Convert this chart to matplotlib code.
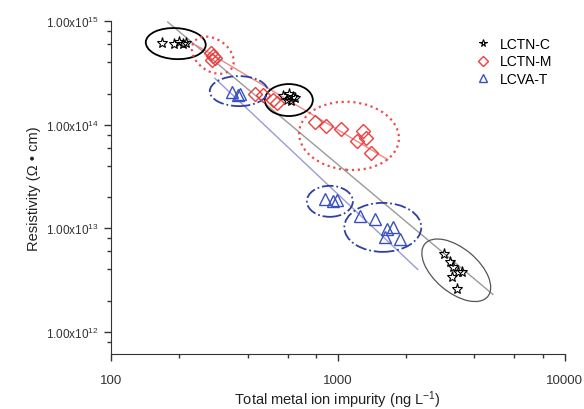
import numpy as np
import matplotlib.pyplot as plt
from matplotlib.patches import Ellipse
from matplotlib.transforms import ScaledTranslation
from matplotlib.ticker import FixedLocator, FuncFormatter

plt.rcParams['font.family'] = ['Liberation Sans', 'DejaVu Sans']
plt.rcParams['mathtext.fontset'] = 'custom'
plt.rcParams['mathtext.rm'] = 'Liberation Sans'
plt.rcParams['mathtext.it'] = 'Liberation Sans'
plt.rcParams['mathtext.default'] = 'regular'

# data
lctn_c_x = [168, 190, 199, 208, 214,
            575, 595, 610, 622, 635, 650,
            2930, 3110, 3210, 3380, 3520, 3180, 3340]
lctn_c_y = [6.2e14, 6.0e14, 6.3e14, 6.0e14, 6.2e14,
            1.9e14, 1.75e14, 2.0e14, 1.7e14, 1.85e14, 1.8e14,
            5.6e12, 4.7e12, 4.2e12, 3.8e12, 3.8e12, 3.4e12, 2.6e12]

lctn_m_x = [275, 282, 288, 280,
            430, 467, 518, 539,
            792, 885, 1031, 1289, 1337, 1209, 1406]
lctn_m_y = [4.9e14, 4.6e14, 4.4e14, 4.2e14,
            1.97e14, 1.95e14, 1.73e14, 1.61e14,
            1.06e14, 9.7e13, 9.1e13, 8.7e13, 7.4e13, 6.9e13, 5.3e13]

lcva_t_x = [341, 362, 372,
            880, 950, 990,
            1250, 1455, 1643, 1746, 1610, 1875]
lcva_t_y = [2.06e14, 1.95e14, 2.0e14,
            1.9e13, 1.85e13, 1.88e13,
            1.31e13, 1.22e13, 9.8e12, 1.02e13, 8.2e12, 7.8e12]

# fitted lines (end points)
fit_c_x = [178, 4820]
fit_c_y = [9.8e14, 2.3e12]
fit_m_x = [239, 1660]
fit_m_y = [5.8e14, 4.6e13]
fit_t_x = [287, 2250]
fit_t_y = [2.81e14, 4.0e12]

# group ellipses: centre x, centre y, width px, height px, angle, colour, style, width
rings = [
    (193, 6.07e14, 60, 31, -3, 'black', '-', 1.3),
    (608, 1.73e14, 48, 32, 0, 'black', '-', 1.3),
    (3326, 3.93e12, 82, 44, -40, '#555555', '-', 0.9),
    (281, 4.69e14, 46, 32, -35, '#e85050', ':', 1.6),
    (1120, 7.8e13, 100, 68, -5, '#e85050', ':', 1.6),
    (366, 2.11e14, 58, 30, 0, '#3040a0', '-.', 1.3),
    (922, 1.82e13, 46, 31, 0, '#3040a0', '-.', 1.3),
    (1578, 1.02e13, 77, 49, 0, '#3040a0', '-.', 1.3),
]

fig = plt.figure(figsize=(5.84, 4.10), dpi=100)
ax = fig.add_axes([0.190, 0.134, 0.777, 0.812])

ax.plot(fit_c_x, fit_c_y, color='#9a9a9a', lw=1.0, zorder=1)
ax.plot(fit_m_x, fit_m_y, color='#f08a8a', lw=1.0, zorder=1)
ax.plot(fit_t_x, fit_t_y, color='#9a9ad8', lw=1.0, zorder=1)

ax.plot(lctn_c_x, lctn_c_y, ls='none', marker='*', ms=8, mfc='none',
        mec='black', mew=0.8, label='LCTN-C', zorder=3)
ax.plot(lctn_m_x, lctn_m_y, ls='none', marker='D', ms=7.5, mfc='none',
        mec='#e84040', mew=1.0, label='LCTN-M', zorder=3)
ax.plot(lcva_t_x, lcva_t_y, ls='none', marker='^', ms=9, mfc='none',
        mec='#3a50c0', mew=1.0, label='LCVA-T', zorder=3)

for cx, cy, w, h, ang, col, ls, lw in rings:
    tr = fig.dpi_scale_trans + ScaledTranslation(cx, cy, ax.transData)
    ax.add_patch(Ellipse((0, 0), w / 100, h / 100, angle=ang, transform=tr,
                         fill=False, edgecolor=col, linestyle=ls, lw=lw,
                         zorder=2))

ax.set_xscale('log')
ax.set_yscale('log')
ax.set_xlim(100, 10000)
ax.set_ylim(6.1e11, 1e15)

ax.xaxis.set_major_locator(FixedLocator([100, 1000, 10000]))
ax.xaxis.set_minor_locator(FixedLocator([200, 400, 600, 800, 2000, 4000, 6000, 8000]))
ax.xaxis.set_major_formatter(FuncFormatter(lambda v, p: '%d' % v))
ax.yaxis.set_major_locator(FixedLocator([1e12, 1e13, 1e14, 1e15]))
ax.yaxis.set_minor_locator(FixedLocator([m * 10.0 ** e for e in range(11, 15)
                                         for m in (2, 4, 6, 8)]))
ax.yaxis.set_major_formatter(FuncFormatter(
    lambda v, p: '1.00x10$^{%d}$' % round(np.log10(v))))

for s in ['top', 'right']:
    ax.spines[s].set_visible(False)
ax.spines['left'].set_color('#333333')
ax.spines['bottom'].set_color('#333333')
ax.tick_params(which='major', direction='out', length=5, width=1,
               colors='#333333', labelsize=8.5, labelcolor='#333333')
ax.tick_params(which='minor', direction='out', length=3, width=1, colors='#333333')
ax.tick_params(axis='x', which='major', labelsize=9.5, pad=9)

ax.set_xlabel('Total metal ion impurity (ng L$^{-1}$)', fontsize=10.5,
              color='#222222')
ax.xaxis.set_label_coords(0.5, -0.103)
ax.set_ylabel('Resistivity (\u03a9 \u2022 cm)', fontsize=10.5, color='#222222',
              labelpad=4)

ax.legend(loc='upper right', frameon=False, fontsize=10, markerscale=0.7,
          handlelength=1.2, handletextpad=0.6, labelspacing=0.25,
          bbox_to_anchor=(1.0, 0.99))

fig.savefig('out.png', dpi=100)
